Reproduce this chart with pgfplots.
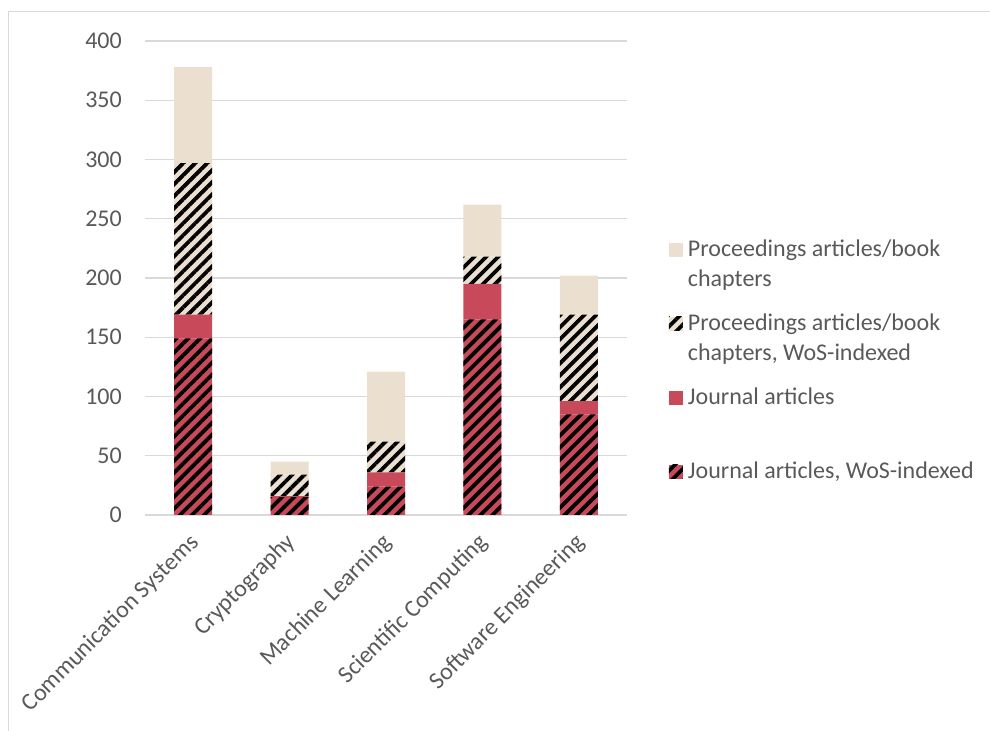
\documentclass[border=0pt]{standalone}
\usepackage{pgfplots}
\pgfplotsset{compat=1.18}
\usepackage{fontspec}
\setmainfont{Carlito}
\usetikzlibrary{patterns.meta}
\definecolor{beige}{HTML}{EBDFCF}
\definecolor{cred}{HTML}{C84A5A}
\definecolor{gridgray}{HTML}{D9D9D9}
\definecolor{txtgray}{HTML}{595959}
\tikzset{hatch/.style={postaction={pattern={Lines[angle=45,distance=8.5bp,line width=3.8bp]},pattern color=black}}}
\newcommand{\lfont}{\fontsize{24bp}{29.5bp}\selectfont}
\begin{document}
\lfont
\begin{tikzpicture}
\path[use as bounding box] (0bp,0bp) rectangle (990bp,731bp);
\draw[gridgray, line width=1bp] (8bp,0bp) -- (8bp,719bp) -- (990bp,719bp);
\begin{axis}[
  at={(145bp,216bp)}, anchor=south west,
  scale only axis, width=482bp, height=474bp,
  ybar stacked, bar width=38bp,
  xmin=-0.5, xmax=4.5, ymin=0, ymax=400,
  ytick={0,50,...,400},
  xtick={0,1,2,3,4},
  xticklabels={Communication Systems, Cryptography, Machine Learning, Scientific Computing, Software Engineering},
  /pgf/number format/assume math mode=true,
  axis line style={draw=none},
  major tick length=0pt,
  ymajorgrids, major grid style={gridgray, line width=1.3bp},
  tick label style={text=txtgray, font=\lfont},
  yticklabel style={anchor=east, inner sep=0pt, xshift=-23bp},
  xticklabel style={rotate=45, anchor=east, inner sep=0pt, xshift=3bp},
  xticklabel shift=26bp,
  legend cell align=left,
  reverse legend,
  legend image code/.code={\path[#1] (0bp,9bp) rectangle (14bp,23bp);},
  legend style={at={(1.0871,0.5886)}, anchor=north west, draw=none, fill=none,
    inner sep=0pt, outer sep=0pt, column sep=5bp, row sep=15bp,
    nodes={inner sep=0pt, text=txtgray, font=\lfont, text height=20.65bp, text depth=38.35bp}},
]
\addplot[fill=cred, draw=none, hatch] coordinates {(0,149) (1,15) (2,24) (3,165) (4,85)};
\addlegendentry{\parbox[t]{300bp}{\strut Journal articles, WoS-indexed\\\strut}}
\addplot[fill=cred, draw=none] coordinates {(0,20) (1,1) (2,12) (3,30) (4,11)};
\addlegendentry{\parbox[t]{300bp}{\strut Journal articles\\\strut}}
\addplot[fill=beige, draw=none, hatch] coordinates {(0,128) (1,18) (2,26) (3,23) (4,73)};
\addlegendentry{\parbox[t]{300bp}{\strut Proceedings articles/book\\chapters, WoS-indexed\strut}}
\addplot[fill=beige, draw=none] coordinates {(0,81) (1,11) (2,59) (3,44) (4,33)};
\addlegendentry{\parbox[t]{300bp}{\strut Proceedings articles/book\\chapters\strut}}
\end{axis}
\end{tikzpicture}
\end{document}
